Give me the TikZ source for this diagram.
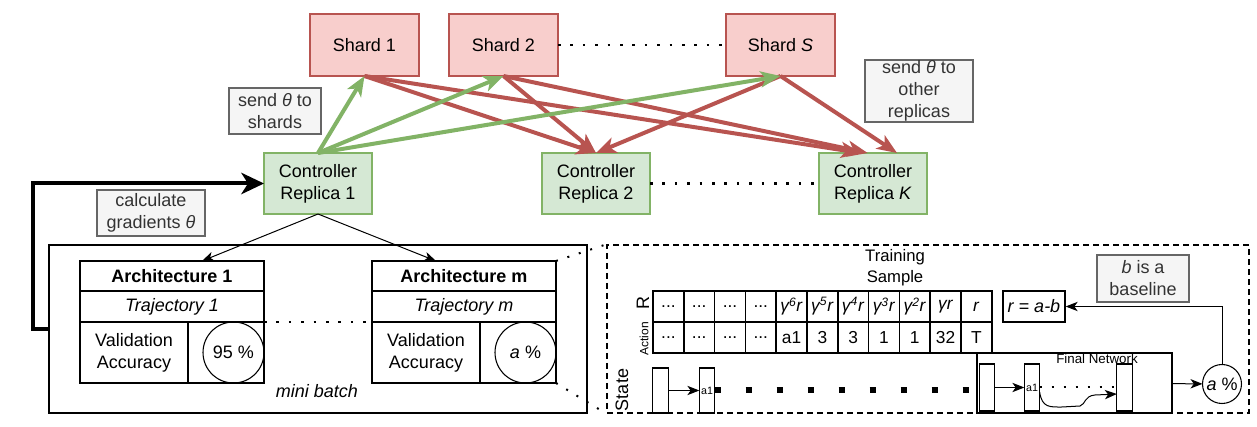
\documentclass[tikz,border=0pt]{standalone}
\usepackage{fontspec}
\setmainfont{Liberation Sans}
\usetikzlibrary{arrows.meta,positioning}
\definecolor{ShardRed}{RGB}{184,84,80}
\definecolor{ShardFill}{RGB}{248,206,204}
\definecolor{CtrlGreen}{RGB}{130,179,102}
\definecolor{CtrlFill}{RGB}{213,232,212}
\definecolor{NoteGray}{RGB}{102,102,102}
\definecolor{NoteFill}{RGB}{245,245,245}
\definecolor{NoteText}{RGB}{51,51,51}
\newcommand{\mainsize}{\fontsize{13.5}{16.5}\selectfont}
\newcommand{\cellsize}{\fontsize{13}{15}\selectfont}
\newcommand{\celldots}{...}
\newcommand{\gr}[1]{\textit{γ\textsuperscript{#1}r}}
\tikzset{
  shard/.style={draw=ShardRed,fill=ShardFill,line width=0.9pt,minimum width=81.75pt,
    minimum height=46.5pt,inner sep=0pt,outer sep=0pt,font=\mainsize},
  controller/.style={draw=CtrlGreen,fill=CtrlFill,line width=0.9pt,minimum width=81pt,
    minimum height=45.75pt,inner sep=0pt,outer sep=0pt,align=center,font=\mainsize},
  note/.style={draw=NoteGray,fill=NoteFill,text=NoteText,line width=1pt,inner sep=0pt,
    align=center,font=\mainsize},
  archhead/.style={draw,line width=1.1pt,minimum width=138pt,minimum height=22.5pt,
    inner sep=0pt,outer sep=0pt,font=\mainsize\bfseries},
  archrow/.style={draw,line width=1.1pt,minimum width=138pt,minimum height=23.25pt,
    inner sep=0pt,outer sep=0pt,font=\mainsize\itshape},
  valcell/.style={draw,line width=1.1pt,minimum width=81pt,minimum height=45.75pt,
    inner sep=0pt,outer sep=0pt,align=center,font=\mainsize},
  acccell/.style={draw,line width=1.1pt,minimum width=57pt,minimum height=45.75pt,
    inner sep=0pt,outer sep=0pt},
  acccircle/.style={circle,draw,line width=0.8pt,minimum size=45.75pt,inner sep=0pt,
    outer sep=0pt,font=\mainsize},
  cell/.style={draw,line width=1.2pt,minimum width=23.1pt,minimum height=23.25pt,
    inner sep=0pt,outer sep=0pt,font=\cellsize},
  staterect/.style={draw,line width=0.8pt,minimum width=11.5pt,minimum height=33.75pt,
    inner sep=0pt,outer sep=0pt,font=\fontsize{8}{9}\selectfont},
  redarrow/.style={-{Stealth[length=15pt,width=12pt,inset=4pt]},line width=3pt,ShardRed},
  greenarrow/.style={-{Stealth[length=15pt,width=12pt,inset=4pt]},line width=3pt,CtrlGreen},
  looparrow/.style={-{Stealth[length=17pt,width=16pt,inset=5pt]},line width=3pt},
  thinarrow/.style={-{Stealth[length=9pt,width=7pt,inset=2.5pt]},line width=0.75pt},
  bigdots/.style={line width=2pt,dash pattern=on 2pt off 7.3pt},
  smalldots/.style={line width=1.5pt,dash pattern=on 1.5pt off 7.5pt},
  squaredots/.style={line width=4.5pt,dash pattern=on 4.5pt off 18.75pt}
}
\begin{document}
\begin{tikzpicture}[x=0.75pt,y=-0.75pt]
  \useasboundingbox (0,0) rectangle (1257,427);

  \node[shard] (shard1) at (364.5,45) {Shard 1};
  \node[shard,right=22.5pt of shard1] (shard2) {Shard 2};
  \node[shard,right=126pt of shard2] (shardS) {Shard \textit{S}};

  \node[controller] (rep1) at (318,183.5) {Controller\\Replica 1};
  \node[controller,right=127.5pt of rep1] (rep2) {Controller\\Replica 2};
  \node[controller,right=126.75pt of rep2] (repK) {Controller\\Replica \textit{K}};

  \node[note,minimum width=69pt,minimum height=34.5pt] (sendshards) at (275,111)
    {send \textit{θ} to\\shards};
  \node[note,minimum width=81pt,minimum height=34.5pt] (calcgrad) at (151,213)
    {calculate\\gradients \textit{θ}};
  \node[note,minimum width=81pt,minimum height=46.5pt] (sendrep) at (919,91)
    {send \textit{θ} to\\other\\replicas};

  \node[draw,line width=1.1pt,minimum width=403.5pt,minimum height=126pt] (minibatch)
    at (318,329) {};
  \node[font=\mainsize\itshape] (minilabel) at (317,391) {mini batch};

  \node[archhead] (arch1) at (172,276) {Architecture 1};
  \node[archrow,below=0pt of arch1] (traj1) {Trajectory 1};
  \node[valcell,anchor=north west] (val1) at (traj1.south west) {Validation\\Accuracy};
  \node[acccell,right=0pt of val1] (acccell1) {};
  \node[acccircle,anchor=east] (acc1) at (acccell1.east) {95 \%};

  \node[archhead] (archm) at (464,276) {Architecture m};
  \node[archrow,below=0pt of archm] (trajm) {Trajectory m};
  \node[valcell,anchor=north west] (valm) at (trajm.south west) {Validation\\Accuracy};
  \node[acccell,right=0pt of valm] (acccellm) {};
  \node[acccircle,anchor=east] (accm) at (acccellm.east) {\textit{a} \%};

  \node[draw,line width=1pt,dash pattern=on 4.5pt off 3pt,minimum width=481.5pt,
    minimum height=126pt] (trainbox) at (928,329) {};
  \node[font=\fontsize{12.5}{15.5}\selectfont,align=center] (trainlabel) at (895,268)
    {Training\\Sample};
  \node[rotate=90,font=\mainsize] (rlabel) at (643,303) {R};
  \node[rotate=90,font=\fontsize{9}{10}\selectfont] (actlabel) at (644,339) {Action};
  \node[rotate=90,font=\mainsize] (statelabel) at (622,390) {State};

  \foreach \rv [count=\i] in {\celldots,\celldots,\celldots,\celldots,\gr{6},\gr{5},
      \gr{4},\gr{3},\gr{2},\textit{γr},\textit{r}}
    \node[cell] (rew\i) at ({637.6+30.8*\i},306.5) {\rv};
  \foreach \av [count=\i] in {\celldots,\celldots,\celldots,\celldots,a1,3,3,1,1,32,T}
    \node[cell] (act\i) at ({637.6+30.8*\i},337.5) {\av};

  \node[staterect] (s1) at (660.5,390.5) {};
  \node[staterect] (s2) at (707,390.5) {a1};

  \node[draw,line width=1pt,minimum width=146.25pt,minimum height=45pt,inner sep=0pt]
    (fnet) at (1074.5,383) {};
  \node[font=\fontsize{10}{12}\selectfont] (fnetlabel) at (1097,359) {Final Network};
  \node[staterect,minimum height=35.25pt] (f1) at (987,387.5) {};
  \node[staterect,minimum height=35.25pt] (f2) at (1032,387.5) {a1};
  \node[staterect,minimum height=35.25pt] (f3) at (1124.5,387.5) {};

  \node[acccircle,minimum size=29.25pt] (acca) at (1222,384) {\textit{a} \%};
  \node[draw,line width=1pt,minimum width=46.5pt,minimum height=23.25pt,inner sep=0pt,
    font=\mainsize] (rbox) at (1034,306.5) {\textit{r = a-b}};
  \node[note,minimum width=69pt,minimum height=35.25pt] (baseline) at (1143,278.5)
    {\textit{b} is a\\baseline};

  \draw[redarrow] (shard1.south) -- (rep2.north);
  \draw[redarrow] (shard1.south) -- ([xshift=-9pt]repK.north);
  \draw[redarrow] (shard2.south) -- (rep2.north);
  \draw[redarrow] (shard2.south) -- ([xshift=-4pt]repK.north);
  \draw[redarrow] (shardS.south) -- (rep2.north);
  \draw[redarrow] (shardS.south) -- ([xshift=18pt]repK.north);
  \draw[greenarrow] (rep1.north) -- (shard1.south);
  \draw[greenarrow] (rep1.north) -- (shard2.south);
  \draw[greenarrow] (rep1.north) -- (shardS.south);

  \draw[bigdots] (shard2) -- (shardS);
  \draw[bigdots] (rep2) -- (repK);
  \draw[looparrow] (minibatch.west) -- ++(-15,0) |- (rep1.west);
  \draw[thinarrow] (rep1.south) -- ([xshift=22.5pt]arch1.north);
  \draw[thinarrow] (rep1.south) -- ([xshift=-21pt]archm.north);
  \draw[bigdots] (traj1.south east) -- (trajm.south west);
  \draw[smalldots] (archm.north east) -- (trainbox.north west);
  \draw[smalldots] (acccellm.south east) -- (trainbox.south west);

  \draw[thinarrow] (s1) -- (s2);
  \draw[squaredots] (s2.east) -- (s2.east -| fnet.west);
  \draw[thinarrow] (f1) -- (f2);
  \draw[smalldots] (f2) -- (f3);
  \draw[thinarrow] ([yshift=-3.4pt]f2.east) .. controls (1042,408) and (1050,407) .. (1062,407)
    -- (1080,406) .. controls (1086,404) and (1084,396) .. (1095,395) -- ([yshift=-4.9pt]f3.west);
  \draw[thinarrow] (fnet) -- (acca);
  \draw[thinarrow] (acca) |- (rbox);
\end{tikzpicture}
\end{document}
